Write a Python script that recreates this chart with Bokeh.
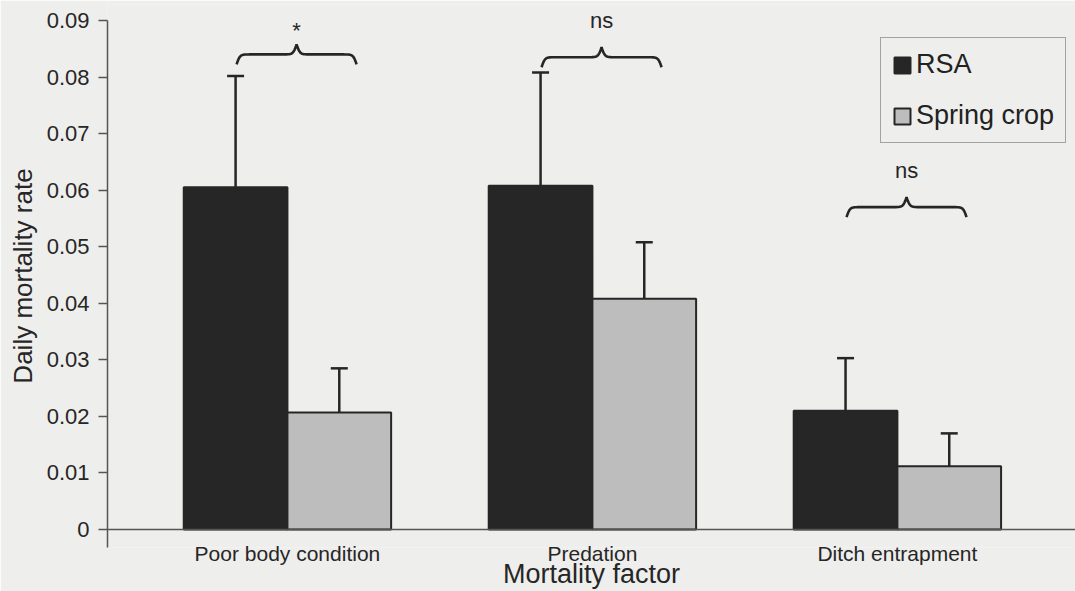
import numpy as np
from bokeh.plotting import figure
from bokeh.models import (Range1d, FixedTicker, Span, Whisker, TeeHead, ColumnDataSource,
                          Legend, LegendItem, LabelSet)
from bokeh.core.properties import value
from bokeh.embed import file_html
from bokeh.resources import INLINE

# ---- data -------------------------------------------------------------
factors = ["Poor body condition", "Predation", "Ditch entrapment"]
rsa_rate = [0.0605, 0.0608, 0.0210]
rsa_se = [0.0197, 0.0200, 0.0093]
spring_rate = [0.0207, 0.0408, 0.0112]
spring_se = [0.0078, 0.0100, 0.0058]
sig_labels = ["*", "ns", "ns"]
brace_level = [0.0840, 0.0835, 0.0570]
y_ticks = [0, 0.01, 0.02, 0.03, 0.04, 0.05, 0.06, 0.07, 0.08, 0.09]

# ---- style ------------------------------------------------------------
BG = "#eeeeec"
INK = "#262626"
AXIS = "#555555"
DARK = "#262626"
GREY = "#bdbdbd"
FONT = "Liberation Sans"

W, H = 1075, 591
LEFT, TOP, BOTTOM = 107, 4, 43
X0, X1 = 0.41, 3.584
PX_Y = 5665.0                      # pixels per unit of mortality rate
Y_TOP = 0.09                       # top of the value axis
Y0 = -18 / PX_Y                    # axis line runs a little below zero
Y1 = Y_TOP + 16 / PX_Y             # headroom for the significance marks
px_per_x = (W - LEFT) / (X1 - X0)
px_per_y = (H - TOP - BOTTOM) / (Y1 - Y0)

p = figure(width=W, height=H, output_backend="svg", toolbar_location=None,
           x_range=Range1d(X0, X1), y_range=Range1d(Y0, Y1),
           min_border_left=LEFT, min_border_right=0, min_border_top=TOP,
           min_border_bottom=BOTTOM, background_fill_color=BG,
           border_fill_color=BG, outline_line_color=None)
p.grid.visible = False

centers = np.arange(1, len(factors) + 1, dtype=float)
bw = 0.34

# ---- bars ---------------------------------------------------------------
r_rsa = p.vbar(x=centers - bw / 2, top=rsa_rate, bottom=0, width=bw,
               fill_color=DARK, line_color=INK, line_width=2)
r_spr = p.vbar(x=centers + bw / 2, top=spring_rate, bottom=0, width=bw,
               fill_color=GREY, line_color=INK, line_width=2)

# upper error bars
for offs, rate, se in ((-bw / 2, rsa_rate, rsa_se), (bw / 2, spring_rate, spring_se)):
    src = ColumnDataSource(dict(base=centers + offs, lo=rate,
                                hi=np.array(rate) + np.array(se)))
    p.add_layout(Whisker(base="base", lower="lo", upper="hi", source=src,
                         line_color=INK, line_width=2.5, lower_head=None,
                         upper_head=TeeHead(size=17, line_color=INK, line_width=2.5)))

# baseline
p.add_layout(Span(location=0, dimension="width", line_color=AXIS, line_width=1.5))

# ---- significance braces --------------------------------------------------
half_w_px, rise_px, beta = 60, 10, 0.6
u = np.linspace(0, half_w_px, 121)
half = 1 / (1 + np.exp(-beta * (u - u[0]))) + 1 / (1 + np.exp(-beta * (u - u[-1])))
shape = np.concatenate((half, half[-2::-1]))
xs_px = np.linspace(-half_w_px, half_w_px, shape.size)
brace_shift = 0.03

lab_x, lab_y = [], []
for c, lvl, lab in zip(centers, brace_level, sig_labels):
    bx = c + brace_shift + xs_px / px_per_x
    by = lvl + (shape - 1) * 2 * rise_px / px_per_y
    p.line(bx, by, line_color=INK, line_width=2.6)
    tip = lvl + rise_px / px_per_y
    gap = 6 if lab == "*" else 19
    lab_x.append(c + brace_shift)
    lab_y.append(tip + gap / px_per_y)

p.add_layout(LabelSet(x="x", y="y", text="text",
                      source=ColumnDataSource(dict(x=lab_x, y=lab_y, text=sig_labels)),
                      text_align="center", text_baseline="alphabetic",
                      text_font=value(FONT), text_font_size="22px", text_color=INK))

# ---- axes -------------------------------------------------------------------
ya = p.yaxis[0]
ya.bounds = (Y0, Y_TOP)
ya.ticker = FixedTicker(ticks=y_ticks)
ya.major_label_overrides = {0: "0"}
ya.axis_line_color = AXIS
ya.axis_line_width = 1.5
ya.major_tick_line_color = AXIS
ya.major_tick_line_width = 1.5
ya.major_tick_in = 0
ya.major_tick_out = 9
ya.minor_tick_line_color = None
ya.major_label_standoff = 9
ya.major_label_text_font = FONT
ya.major_label_text_font_size = "22px"
ya.major_label_text_color = INK
ya.axis_label = "Daily mortality rate"
ya.axis_label_text_font = FONT
ya.axis_label_text_font_size = "26px"
ya.axis_label_text_font_style = "normal"
ya.axis_label_text_color = INK
ya.axis_label_standoff = 6

xa = p.xaxis[0]
xa.ticker = FixedTicker(ticks=list(centers))
xa.major_label_overrides = {int(c): f for c, f in zip(centers, factors)}
xa.axis_line_color = None
xa.major_tick_line_color = None
xa.minor_tick_line_color = None
xa.major_tick_in = 0
xa.major_tick_out = 0
xa.major_label_standoff = -6
xa.major_label_text_font = FONT
xa.major_label_text_font_size = "21px"
xa.major_label_text_color = INK
xa.axis_label = "Mortality factor"
xa.axis_label_text_font = FONT
xa.axis_label_text_font_size = "27px"
xa.axis_label_text_font_style = "normal"
xa.axis_label_text_color = INK
xa.axis_label_standoff = -9

# ---- legend -----------------------------------------------------------------
legend = Legend(items=[LegendItem(label="RSA", renderers=[r_rsa]),
                       LegendItem(label="Spring crop", renderers=[r_spr])],
                location=(773, 404), margin=0, padding=11, spacing=20,
                glyph_width=20, glyph_height=20, label_standoff=4,
                label_text_font=FONT, label_text_font_size="27px",
                label_text_color="#222222", border_line_color=AXIS,
                border_line_width=1.5, background_fill_color=BG,
                background_fill_alpha=1.0)
p.add_layout(legend)

open("out.html", "w").write(file_html(p, INLINE))
